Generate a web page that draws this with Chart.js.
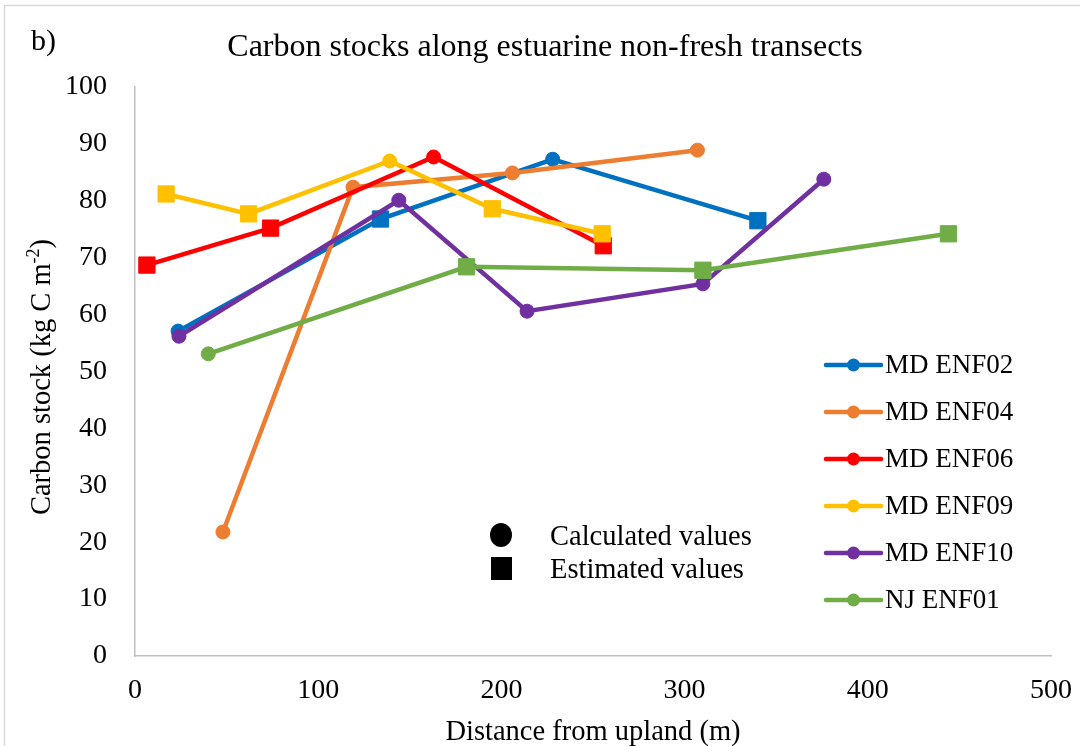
<!DOCTYPE html>
<html>
<head>
<meta charset="utf-8">
<script src="https://cdn.jsdelivr.net/npm/chart.js@4/dist/chart.umd.min.js"></script>
<style>
  html, body { margin: 0; padding: 0; background: #fff; }
  canvas { display: block; }
</style>
</head>
<body>
<canvas id="c" width="1080" height="746"></canvas>
<script>
// Transect names
const transects = ['MD ENF02', 'MD ENF04', 'MD ENF06', 'MD ENF09', 'MD ENF10', 'NJ ENF01'];

// Distance from upland (m) for each sampling point
const distENF02 = [23.5, 134, 228, 340];
const distENF04 = [48, 119, 206, 307];
const distENF06 = [6.5, 74, 163, 255.6];
const distENF09 = [17, 62, 139, 195, 255];
const distENF10 = [24, 144, 214, 310, 376];
const distNJ01  = [40, 181, 310, 444];

// Carbon stock (kg C m-2)
const stockENF02 = [57.1, 76.8, 87.3, 76.5];
const stockENF04 = [21.8, 82.4, 84.9, 88.9];
const stockENF06 = [68.7, 75.2, 87.7, 72.1];
const stockENF09 = [81.2, 77.7, 87.0, 78.6, 74.2];
const stockENF10 = [56.2, 80.1, 60.6, 65.4, 83.8];
const stockNJ01  = [53.1, 68.4, 67.8, 74.2];

// Value origin: 'calc' = calculated, 'est' = estimated
const kindENF02 = ['calc', 'est', 'calc', 'est'];
const kindENF04 = ['calc', 'calc', 'calc', 'calc'];
const kindENF06 = ['est', 'est', 'calc', 'est'];
const kindENF09 = ['est', 'est', 'calc', 'est', 'est'];
const kindENF10 = ['calc', 'calc', 'calc', 'calc', 'calc'];
const kindNJ01  = ['calc', 'est', 'est', 'est'];

// Axis ticks
const xTicks = [0, 100, 200, 300, 400, 500];
const yTicks = [0, 10, 20, 30, 40, 50, 60, 70, 80, 90, 100];

const colors = ['#0070C0', '#ED7D31', '#FF0000', '#FFC000', '#7030A0', '#70AD47'];
const dists = [distENF02, distENF04, distENF06, distENF09, distENF10, distNJ01];
const stocks = [stockENF02, stockENF04, stockENF06, stockENF09, stockENF10, stockNJ01];
const kinds = [kindENF02, kindENF04, kindENF06, kindENF09, kindENF10, kindNJ01];

const SERIF = '"Liberation Serif", "Times New Roman", serif';

const datasets = transects.map((name, i) => ({
  label: name,
  data: dists[i].map((d, j) => ({ x: d, y: stocks[i][j] })),
  borderColor: colors[i],
  backgroundColor: colors[i],
  borderWidth: 4.5,
  tension: 0,
  pointStyle: kinds[i].map(k => k === 'calc' ? 'circle' : 'rect'),
  pointRadius: kinds[i].map(k => k === 'calc' ? 7 : 11.5),
  pointBorderWidth: 1,
  pointBorderColor: colors[i],
  pointBackgroundColor: colors[i],
  order: transects.length - i
}));

// Frame, titles and legends drawn around the plot
const decor = {
  id: 'decor',
  beforeDraw(chart) {
    const ctx = chart.ctx;
    ctx.save();
    ctx.fillStyle = '#fff';
    ctx.fillRect(0, 0, chart.width, chart.height);
    ctx.strokeStyle = '#D9D9D9';
    ctx.lineWidth = 1.5;
    ctx.strokeRect(4.5, 5.5, chart.width + 20, chart.height + 20);
    ctx.restore();
  },
  afterDraw(chart) {
    const ctx = chart.ctx;
    const area = chart.chartArea;
    ctx.save();
    ctx.fillStyle = '#000';

    // panel letter
    ctx.font = '30px ' + SERIF;
    ctx.textAlign = 'left';
    ctx.textBaseline = 'alphabetic';
    ctx.fillText('b)', 31, 50);

    // chart title
    ctx.font = '32px ' + SERIF;
    ctx.textAlign = 'center';
    ctx.fillText('Carbon stocks along estuarine non-fresh transects', 545, 56);

    // x axis title
    ctx.font = '28.5px ' + SERIF;
    ctx.textAlign = 'center';
    ctx.fillText('Distance from upland (m)', (area.left + area.right) / 2, 740);

    // y axis title with superscript
    ctx.save();
    ctx.translate(50, 377);
    ctx.rotate(-Math.PI / 2);
    const main = 'Carbon stock (kg C m';
    const sup = '-2';
    const tail = ')';
    ctx.font = '28.5px ' + SERIF;
    const wMain = ctx.measureText(main).width;
    const wTail = ctx.measureText(tail).width;
    ctx.font = '18px ' + SERIF;
    const wSup = ctx.measureText(sup).width;
    const total = wMain + wSup + wTail;
    let x0 = -total / 2;
    ctx.textAlign = 'left';
    ctx.font = '28.5px ' + SERIF;
    ctx.fillText(main, x0, 0);
    ctx.font = '18px ' + SERIF;
    ctx.fillText(sup, x0 + wMain, -11);
    ctx.font = '28.5px ' + SERIF;
    ctx.fillText(tail, x0 + wMain + wSup, 0);
    ctx.restore();

    // series legend
    const legX0 = 826, legX1 = 881, legTextX = 885, legY0 = 365, legStep = 47;
    chart.data.datasets.forEach((ds, i) => {
      const y = legY0 + i * legStep;
      ctx.strokeStyle = ds.borderColor;
      ctx.lineWidth = 4.5;
      ctx.lineCap = 'round';
      ctx.beginPath();
      ctx.moveTo(legX0, y);
      ctx.lineTo(legX1, y);
      ctx.stroke();
      ctx.fillStyle = ds.borderColor;
      ctx.beginPath();
      ctx.arc((legX0 + legX1) / 2, y, 6.5, 0, Math.PI * 2);
      ctx.fill();
      ctx.fillStyle = '#000';
      ctx.font = '27px ' + SERIF;
      ctx.textAlign = 'left';
      ctx.textBaseline = 'middle';
      ctx.fillText(ds.label, legTextX, y + 1);
    });

    // marker-kind legend
    ctx.fillStyle = '#000';
    ctx.beginPath();
    ctx.ellipse(501, 535, 11, 12, 0, 0, Math.PI * 2);
    ctx.fill();
    ctx.fillRect(491, 557, 21, 23);
    ctx.font = '28.5px ' + SERIF;
    ctx.textAlign = 'left';
    ctx.textBaseline = 'alphabetic';
    ctx.fillText('Calculated values', 550, 545);
    ctx.fillText('Estimated values', 550, 578);

    ctx.restore();
  }
};

new Chart(document.getElementById('c'), {
  type: 'line',
  data: { datasets },
  options: {
    responsive: false,
    animation: false,
    layout: { padding: { left: 0, right: 29, top: 87, bottom: 0 } },
    plugins: { legend: { display: false }, tooltip: { enabled: false }, title: { display: false } },
    scales: {
      x: {
        type: 'linear',
        min: 0, max: 500,
        afterBuildTicks: s => { s.ticks = xTicks.map(v => ({ value: v })); },
        afterFit: s => { s.height = 90; s.paddingLeft = 0; s.paddingRight = 0; },
        grid: { display: false, drawTicks: false },
        border: { display: true, color: '#BFBFBF', width: 1.5 },
        ticks: { color: '#000', font: { family: SERIF, size: 28 }, padding: 18, maxRotation: 0 }
      },
      y: {
        type: 'linear',
        min: 0, max: 100,
        afterBuildTicks: s => { s.ticks = yTicks.map(v => ({ value: v })); },
        afterFit: s => { s.width = 135; s.paddingTop = 0; s.paddingBottom = 0; },
        grid: { display: false, drawTicks: false },
        border: { display: true, color: '#BFBFBF', width: 1.5 },
        ticks: { color: '#000', font: { family: SERIF, size: 28 }, padding: 28 }
      }
    }
  },
  plugins: [decor]
});
</script>
</body>
</html>
